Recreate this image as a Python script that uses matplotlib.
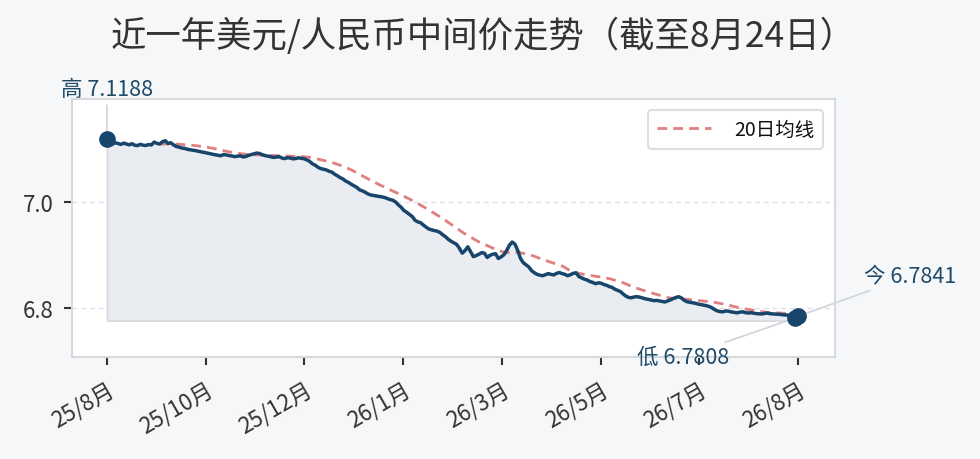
import numpy as np
import pandas as pd
import matplotlib
matplotlib.use("Agg")
import matplotlib.pyplot as plt

plt.rcParams["font.family"] = ["Noto Sans CJK SC", "DejaVu Sans"]
plt.rcParams["axes.unicode_minus"] = False

# ----------------------------------------------------------------------
# Data: USD/CNY central parity, daily, last ~year
# ----------------------------------------------------------------------
rates = [
    7.1188, 7.1102, 7.1090, 7.1110, 7.1098, 7.1080, 7.1105, 7.1088, 7.1072, 7.1094,
    7.1065, 7.1058, 7.1082, 7.1066, 7.1060, 7.1078, 7.1070, 7.1125, 7.1100, 7.1088,
    7.1132, 7.1150, 7.1098, 7.1112, 7.1070, 7.1040, 7.1030, 7.1012, 7.1005, 7.0988,
    7.0980, 7.0972, 7.0962, 7.0950, 7.0940, 7.0930, 7.0918, 7.0908, 7.0895, 7.0886,
    7.0875, 7.0866, 7.0890, 7.0882, 7.0870, 7.0862, 7.0850, 7.0858, 7.0866, 7.0845,
    7.0852, 7.0875, 7.0890, 7.0903, 7.0918, 7.0908, 7.0885, 7.0870, 7.0858, 7.0848,
    7.0835, 7.0842, 7.0850, 7.0825, 7.0812, 7.0830, 7.0825, 7.0808, 7.0815, 7.0828,
    7.0818, 7.0810, 7.0790, 7.0760, 7.0715, 7.0690, 7.0650, 7.0625, 7.0612, 7.0600,
    7.0575, 7.0560, 7.0520, 7.0490, 7.0455, 7.0430, 7.0390, 7.0365, 7.0330, 7.0300,
    7.0270, 7.0225, 7.0205, 7.0180, 7.0148, 7.0128, 7.0118, 7.0108, 7.0100, 7.0092,
    7.0080, 7.0060, 7.0040, 7.0028, 6.9995, 6.9940, 6.9895, 6.9835, 6.9800, 6.9760,
    6.9720, 6.9650, 6.9620, 6.9605, 6.9560, 6.9520, 6.9485, 6.9470, 6.9455, 6.9445,
    6.9420, 6.9375, 6.9340, 6.9290, 6.9255, 6.9225, 6.9195, 6.9120, 6.9030, 6.9080,
    6.9150, 6.9060, 6.8965, 6.8985, 6.9010, 6.9040, 6.9030, 6.8950, 6.8990, 6.9010,
    6.9020, 6.8930, 6.8960, 6.9000, 6.9080, 6.9180, 6.9240, 6.9200, 6.9080, 6.8930,
    6.8850, 6.8810, 6.8770, 6.8700, 6.8660, 6.8630, 6.8615, 6.8605, 6.8625, 6.8645,
    6.8630, 6.8620, 6.8650, 6.8665, 6.8645, 6.8630, 6.8605, 6.8625, 6.8650, 6.8660,
    6.8590, 6.8565, 6.8540, 6.8525, 6.8495, 6.8480, 6.8455, 6.8470, 6.8465, 6.8440,
    6.8425, 6.8400, 6.8385, 6.8350, 6.8330, 6.8305, 6.8260, 6.8220, 6.8195, 6.8190,
    6.8205, 6.8210, 6.8200, 6.8185, 6.8170, 6.8160, 6.8148, 6.8135, 6.8140, 6.8130,
    6.8120, 6.8110, 6.8130, 6.8150, 6.8175, 6.8195, 6.8210, 6.8185, 6.8140, 6.8115,
    6.8105, 6.8095, 6.8085, 6.8070, 6.8060, 6.8050, 6.8040, 6.8025, 6.8000, 6.7965,
    6.7940, 6.7928, 6.7925, 6.7942, 6.7935, 6.7922, 6.7915, 6.7905, 6.7918, 6.7925,
    6.7910, 6.7902, 6.7908, 6.7900, 6.7890, 6.7888, 6.7884, 6.7895, 6.7900, 6.7888,
    6.7885, 6.7882, 6.7878, 6.7872, 6.7866, 6.7864, 6.7858, 6.7850, 6.7808, 6.7841,
]
tick_labels = ["25/8月", "25/10月", "25/12月", "26/1月", "26/3月", "26/5月", "26/7月", "26/8月"]
ma_window = 20

# ----------------------------------------------------------------------
# Styling
# ----------------------------------------------------------------------
LINE = "#17456b"
MA = "#e07f7f"
FILL = "#e9edf2"
SPINE = "#d6d9dd"
TXT = "#333333"
ANN = "#1f4a68"

s = pd.Series(rates)
ma = s.rolling(ma_window).mean()
x = np.arange(len(s))
i_hi = int(s.idxmax())
i_lo = int(s.idxmin())
i_now = len(s) - 1
base = s.min() - 0.005

fig = plt.figure(figsize=(9.8, 4.6), dpi=100, facecolor="#f6f7f9")
ax = fig.add_axes([0.0735, 0.222, 0.7785, 0.561])
ax.set_facecolor("white")

ax.fill_between(x, s, base, color=FILL, edgecolor=SPINE, linewidth=1.2, zorder=1)
ax.plot(x, s, color=LINE, lw=2.5, zorder=3)
ax.plot(x, ma, color=MA, lw=2.0, ls=(0, (3.5, 2.2)), label="20日均线", zorder=2)

for i in (i_hi, i_lo, i_now):
    ax.plot(x[i], s[i], "o", ms=11, color=LINE, zorder=5)

line_kw = dict(arrowstyle="-", color="#d3d6da", lw=1.3, shrinkA=2, shrinkB=0)
ax.annotate(f"高 {s[i_hi]:.4f}", xy=(x[i_hi], s[i_hi]), xytext=(0, 36),
            textcoords="offset points", ha="center", va="center",
            fontsize=15.5, color=ANN, arrowprops=line_kw, annotation_clip=False, zorder=4)
ax.annotate(f"低 {s[i_lo]:.4f}", xy=(x[i_lo], s[i_lo]), xytext=(-81, -28),
            textcoords="offset points", ha="center", va="center",
            fontsize=15.5, color=ANN, arrowprops=line_kw, annotation_clip=False, zorder=4)
ax.annotate(f"今 {s[i_now]:.4f}", xy=(x[i_now], s[i_now]), xytext=(81, 29),
            textcoords="offset points", ha="center", va="center",
            fontsize=15.5, color=ANN, arrowprops=line_kw, annotation_clip=False, zorder=4)

ax.set_xlim(-12.6, 262.3)
ax.set_ylim(6.7075, 7.194)

ax.set_xticks(np.linspace(0, len(s) - 1, len(tick_labels)))
ax.set_xticklabels(tick_labels, rotation=30, ha="right", rotation_mode="anchor")
ax.set_yticks([6.8, 7.0])
ax.set_yticklabels(["6.8", "7.0"])
ax.tick_params(axis="both", labelsize=16, colors=TXT, length=6, width=1.5)
ax.tick_params(axis="x", pad=9)
ax.tick_params(axis="y", pad=7)

ax.grid(axis="y", color="#dcdfe3", ls=(0, (4, 3)), lw=0.9)
ax.set_axisbelow(True)
for sp in ax.spines.values():
    sp.set_color(SPINE)
    sp.set_linewidth(1.5)

leg = ax.legend(loc="upper right", fontsize=14, frameon=True, fancybox=True,
                borderpad=0.45, handlelength=2.8, handletextpad=1.2,
                borderaxespad=0.6)
leg.get_frame().set_edgecolor("#d6d6d6")
leg.get_frame().set_linewidth(1.5)
for t in leg.get_texts():
    t.set_color("#111111")

fig.text(0.493, 0.92, "近一年美元/人民币中间价走势（截至8月24日）",
         ha="center", va="center", fontsize=25.5, color=TXT)

fig.savefig("out.png", dpi=100, facecolor=fig.get_facecolor())
